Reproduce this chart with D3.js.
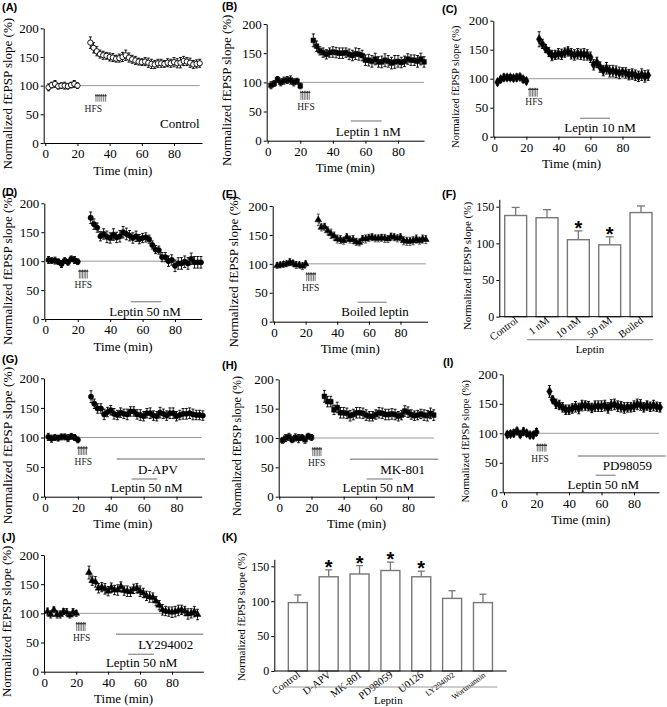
<!DOCTYPE html>
<html><head><meta charset="utf-8">
<script src="https://cdn.jsdelivr.net/npm/d3@7"></script>
<style>body{margin:0;background:#fff}svg{display:block}</style>
</head><body><svg id="c" width="667" height="707"></svg>
<script>
// ---------- data ----------
const baseTimes = [2,4,6,8,10,12,14,16,18,20];
const postTimes = [28,30,32,34,36,38,40,42,44,46,48,50,52,54,56,58,60,62,64,66,68,70,72,74,76,78,80,82,84,86,88,90,92,94,96];
const timeTicks = [0,20,40,60,80];
const slopeTicks = [0,50,100,150,200];
const barTicks = [0,50,100,150];

const controlBase = [97,101,103,99,100,100,99,101,103,100];
const controlPost = [175,166,160,155,153,152,150,149,147,148,150,153,149,146,144,142,141,142,140,138,137,139,139,138,140,139,141,139,140,143,142,140,137,138,139];
const controlBaseErr = [6,5,6,5,5,6,5,5,6,5];
const controlPostErr = [10,9,8,7,7,6,7,7,6,7,8,9,8,7,7,6,6,7,8,8,7,7,7,6,7,7,8,8,9,8,7,8,7,7,7];

const lep1Base = [95,98,105,100,103,104,104,100,102,94];
const lep1Post = [172,162,154,151,148,151,152,151,150,150,151,148,146,149,148,146,138,138,136,140,135,135,138,136,133,135,136,134,136,140,138,138,136,140,135];
const lep1BaseErr = [6,5,5,6,6,6,7,6,5,5];
const lep1PostErr = [11,9,7,8,8,8,9,9,9,9,8,9,9,10,10,9,9,10,10,10,9,10,11,10,10,11,10,9,9,9,9,9,10,10,9];

const lep10Base = [94,99,102,102,102,101,102,103,99,96];
const lep10Post = [168,160,152,146,140,141,143,142,145,147,143,141,143,142,142,141,137,124,128,120,114,118,113,113,112,110,111,110,107,108,106,104,107,104,106];
const lep10BaseErr = [5,5,6,5,5,5,6,5,5,5];
const lep10PostErr = [13,8,7,8,9,8,9,9,8,8,9,9,9,9,10,9,9,9,9,9,9,10,10,10,10,10,8,9,9,9,9,9,10,10,9];

const lep50Base = [102,101,101,99,95,101,98,104,102,99];
const lep50Post = [175,164,158,143,147,142,140,146,141,143,150,147,144,140,143,138,140,141,138,128,120,119,107,107,100,102,92,96,96,99,96,104,98,98,98];
const lep50BaseErr = [6,5,6,5,6,5,5,5,6,5];
const lep50PostErr = [10,9,8,8,9,10,9,10,9,10,10,10,9,9,9,8,8,8,7,7,7,7,8,8,9,9,10,10,10,10,10,10,10,10,10];

const boiledBase = [97,98,99,100,103,101,98,98,96,100];
const boiledPost = [176,163,164,157,152,148,143,142,140,146,142,142,138,137,143,143,145,146,144,144,145,144,143,147,146,144,146,140,139,139,140,143,140,143,142];
const boiledBaseErr = [5,5,5,5,6,5,6,5,6,5];
const boiledPostErr = [10,6,6,7,8,7,7,7,6,6,6,7,6,6,6,7,6,6,6,6,6,7,6,6,6,6,6,7,7,7,7,7,6,7,7];

const apvBase = [101,98,100,99,101,101,99,102,100,96];
const apvPost = [169,157,149,149,139,143,146,140,138,142,140,139,144,144,139,138,136,141,141,137,136,142,140,137,141,141,136,138,140,140,141,139,138,138,137];
const apvBaseErr = [6,6,5,5,5,5,6,5,5,5];
const apvPostErr = [10,8,8,8,9,8,8,9,8,8,8,9,8,8,8,9,8,8,9,8,8,9,8,8,9,9,8,8,9,9,9,9,8,8,8];

const mkBase = [96,100,102,97,101,99,101,97,103,101];
const mkPost = [171,162,162,148,152,143,143,142,138,140,143,143,142,139,137,137,140,143,142,140,140,141,140,137,139,146,144,140,138,139,141,139,138,142,139];
const mkBaseErr = [5,6,6,5,6,7,5,6,5,5];
const mkPostErr = [10,9,9,8,9,9,9,9,9,9,9,9,9,9,8,8,8,9,9,9,9,9,9,8,8,9,9,8,8,8,8,9,9,9,9];

const pdBase = [98,99,100,104,98,103,100,97,97,102];
const pdPost = [171,157,150,148,144,140,140,142,145,142,147,147,146,143,146,146,146,147,143,148,149,146,145,143,144,144,146,149,148,144,147,145,147,145,144];
const pdBaseErr = [5,5,6,5,5,6,5,5,5,6];
const pdPostErr = [10,6,8,8,8,8,8,8,9,9,9,8,8,8,9,9,9,9,9,9,9,9,9,9,8,8,9,9,9,8,8,8,9,8,8];

const lyBase = [103,98,106,98,98,103,102,97,102,100];
const lyPost = [170,156,154,143,145,142,138,144,140,140,146,139,138,137,142,143,138,135,130,128,127,121,114,106,104,103,102,103,105,106,104,99,100,103,98];
const lyBaseErr = [6,6,5,6,6,5,6,5,6,5];
const lyPostErr = [11,8,9,8,8,9,8,8,8,9,8,8,9,8,8,8,9,8,8,9,8,8,8,9,8,8,9,9,9,8,8,9,8,9,9];

const fCats = ["Control","1 nM","10 nM","50 nM","Boiled"];
const fVals = [138,135,105,98,142];
const fErrs = [11,11,12,11,9];
const fSig = [false,false,true,true,false];

const kCats = ["Control","D-APV","MK-801","PD98059","U0126","LY294002","Wortmannin"];
const kVals = [98,135,139,144,135,104,98];
const kErrs = [11,10,12,12,8,11,12];
const kSig = [false,true,true,true,true,false,false];

// ---------- drawing ----------
const svg = d3.select('#c');
const serif = '"Liberation Serif","Times New Roman",serif';
const sans = '"Liberation Sans",Arial,sans-serif';

function panelLabel(txt, x, y){
  svg.append('text').attr('x',x).attr('y',y).attr('font-family',sans).attr('font-weight','bold')
    .attr('font-size',11).text(txt);
}
function styleAxis(g, fs){
  g.attr('font-family',serif).attr('font-size',fs);
  g.selectAll('text').attr('fill','#000');
  g.selectAll('path,line').attr('stroke','#000').attr('stroke-width',1);
}

function timePanel(c){
  panelLabel(c.id, c.lab[0], c.lab[1]);
  const k = (c.x80 - c.x0)/80;
  const x = d3.scaleLinear().domain([(c.axisX-c.x0)/k,(c.axisEnd-c.x0)/k]).range([c.axisX,c.axisEnd]);
  const y = d3.scaleLinear().domain([0,200]).range([c.y0,c.y200]);
  const g = svg.append('g');
  g.append('line').attr('x1',x(20)).attr('x2',Math.min(x(96),c.axisEnd)).attr('y1',y(100)).attr('y2',y(100))
    .attr('stroke','#999').attr('stroke-width',1);
  c.lines.forEach(l=>{
    g.append('line').attr('x1',x(l.t0)).attr('x2',Math.min(x(l.t1),666)).attr('y1',y(l.v)).attr('y2',y(l.v))
      .attr('stroke','#999').attr('stroke-width',1.4);
  });
  c.notes.forEach(n=>{
    g.append('text').attr('x',x(n.t)).attr('y',y(n.v)).attr('dy','0.35em').attr('text-anchor',n.anchor||'middle')
      .attr('font-family',serif).attr('font-size',13).text(n.text);
  });
  const h = c.hfs;
  const nArr = 6;
  for(let i=0;i<nArr;i++){
    const xx = x(h.t0 + (h.t1-h.t0)*i/(nArr-1));
    g.append('line').attr('x1',xx).attr('x2',xx).attr('y1',y(h.bot)).attr('y2',y(h.top)+2)
      .attr('stroke','#555').attr('stroke-width',0.8);
    g.append('path').attr('d',`M${xx-1.3},${y(h.top)+2.6}L${xx},${y(h.top)}L${xx+1.3},${y(h.top)+2.6}Z`).attr('fill','#333');
  }
  g.append('text').attr('x',x(h.tt)).attr('y',y(h.tv)).attr('dy','0.35em').attr('text-anchor','middle')
    .attr('font-family',serif).attr('font-size',9.5).attr('fill','#222').text('HFS');
  const ax = g.append('g').attr('transform',`translate(0,${c.y0})`)
    .call(d3.axisBottom(x).tickValues(timeTicks).tickSize(3).tickSizeOuter(0).tickPadding(3));
  styleAxis(ax, 13);
  const ay = g.append('g').attr('transform',`translate(${c.axisX},0)`)
    .call(d3.axisLeft(y).tickValues(slopeTicks).tickSize(3).tickSizeOuter(0).tickPadding(2));
  styleAxis(ay, 13);
  g.append('text').attr('x',(c.axisX+c.axisEnd)/2).attr('y',c.y0+27).attr('dy','0.35em').attr('text-anchor','middle')
    .attr('font-family',serif).attr('font-size',13).text('Time (min)');
  g.append('text').attr('transform',`translate(${c.ylabX},${(c.y0+c.y200)/2+8}) rotate(-90)`).attr('dy','0.35em')
    .attr('text-anchor','middle').attr('font-family',serif).attr('font-size',c.ylabFs).text('Normalized fEPSP slope (%)');
  const segs = [[baseTimes,c.base,c.eb],[postTimes,c.post,c.ep]];
  segs.forEach(([ts,vs,es])=>{
    const pts = vs.map((v,i)=>({t:ts[i],v:v,e:es[i]}));
    g.append('path').datum(pts).attr('d',d3.line().x(d=>x(d.t)).y(d=>y(d.v)))
      .attr('fill','none').attr('stroke','#000').attr('stroke-width',0.8);
    const eg = g.append('g').attr('stroke',c.errColor||'#000').attr('stroke-width',0.9);
    pts.forEach(d=>{
      const xx=x(d.t), yt=y(d.v+d.e), yb=y(d.v-d.e);
      eg.append('line').attr('x1',xx).attr('x2',xx).attr('y1',yt).attr('y2',yb);
      eg.append('line').attr('x1',xx-1.5).attr('x2',xx+1.5).attr('y1',yt).attr('y2',yt);
      eg.append('line').attr('x1',xx-1.5).attr('x2',xx+1.5).attr('y1',yb).attr('y2',yb);
    });
    g.selectAll(null).data(pts).join('path')
      .attr('transform',d=>`translate(${x(d.t)},${y(d.v)})`)
      .attr('d',d3.symbol(c.sym,c.size)())
      .attr('fill',c.fill).attr('stroke','#000').attr('stroke-width',c.fill==='#fff'?0.9:0.5);
  });
}

function barPanel(c, cats, vals, errs, sig){
  panelLabel(c.id, c.lab[0], c.lab[1]);
  const x = d3.scaleBand().domain(cats).range([c.bandStart,c.bandEnd]).paddingInner(c.pad).paddingOuter(c.pad/2);
  const y = d3.scaleLinear().domain([0,160]).range([c.y0,c.y0-(c.y0-c.y150)*160/150]);
  const g = svg.append('g');
  const bw = x.bandwidth();
  cats.forEach((cat,i)=>{
    const bx = x(cat), cx = bx + bw/2;
    g.append('line').attr('x1',cx).attr('x2',cx).attr('y1',y(vals[i])).attr('y2',y(vals[i]+errs[i]))
      .attr('stroke','#777').attr('stroke-width',1.3);
    g.append('line').attr('x1',cx-c.cap).attr('x2',cx+c.cap).attr('y1',y(vals[i]+errs[i])).attr('y2',y(vals[i]+errs[i]))
      .attr('stroke','#777').attr('stroke-width',1.3);
    g.append('rect').attr('x',bx).attr('y',y(vals[i])).attr('width',bw).attr('height',y(0)-y(vals[i]))
      .attr('fill','#fff').attr('stroke','#777').attr('stroke-width',1.4);
    if(sig[i]){
      g.append('text').attr('x',cx).attr('y',y(vals[i]+errs[i])-7.5+11.5).attr('text-anchor','middle')
        .attr('font-family',sans).attr('font-weight','bold').attr('font-size',20).text('*');
    }
    g.append('text').attr('transform',`translate(${cx+3},${c.y0+5}) rotate(-37)`).attr('text-anchor','end')
      .attr('font-family',serif).attr('font-size',c.catFs[i]).text(cat);
  });
  const ay = g.append('g').attr('transform',`translate(${c.axisX},0)`)
    .call(d3.axisLeft(y).tickValues(barTicks).tickSize(3).tickSizeOuter(0).tickPadding(2));
  styleAxis(ay, c.tickFs);
  g.append('line').attr('x1',c.axisX).attr('x2',c.axisEnd).attr('y1',c.y0).attr('y2',c.y0).attr('stroke','#000');
  g.append('line').attr('x1',c.grp[0]).attr('x2',c.grp[1]).attr('y1',c.grp[2]).attr('y2',c.grp[2]).attr('stroke','#999').attr('stroke-width',1.2);
  g.append('text').attr('x',c.grpText[0]).attr('y',c.grpText[1]).attr('dy','0.35em').attr('text-anchor','middle')
    .attr('font-family',serif).attr('font-size',11).text('Leptin');
  g.append('text').attr('transform',`translate(${c.ylabX},${c.ylabY}) rotate(-90)`).attr('dy','0.35em')
    .attr('text-anchor','middle').attr('font-family',serif).attr('font-size',c.ylabFs).text('Normalized fEPSP slope (%)');
}

const C = d3.symbolCircle, S = d3.symbolSquare, D = d3.symbolDiamond, T = d3.symbolTriangle;

timePanel({id:'(A)',lab:[2,10.5],axisX:43.7,x0:45.3,x80:174,axisEnd:202,y0:143,y200:28.3,ylabX:7.3,ylabFs:13,
  base:controlBase,post:controlPost,eb:controlBaseErr,ep:controlPostErr,sym:C,size:22,fill:'#fff',
  hfs:{t0:31.5,t1:37.5,top:86,bot:72,tt:29.8,tv:60},lines:[],notes:[{text:'Control',t:96,v:34,anchor:'end'}]});
timePanel({id:'(B)',lab:[222,10],axisX:266.7,x0:267.7,x80:398,axisEnd:424,y0:140.7,y200:24,ylabX:226.7,ylabFs:13,
  base:lep1Base,post:lep1Post,eb:lep1BaseErr,ep:lep1PostErr,sym:S,size:22,fill:'#000',
  hfs:{t0:20.4,t1:25.5,top:86,bot:70,tt:23.5,tv:58},lines:[{t0:51,t1:70,v:33.8}],notes:[{text:'Leptin 1 nM',t:61.8,v:16.6}]});
timePanel({id:'(C)',lab:[442,12.5],axisX:493.3,x0:494.3,x80:622.5,axisEnd:650,y0:136.7,y200:20.7,ylabX:455,ylabFs:10.5,
  base:lep10Base,post:lep10Post,eb:lep10BaseErr,ep:lep10PostErr,sym:D,size:26,fill:'#000',
  hfs:{t0:21.8,t1:26.8,top:85,bot:69,tt:24.8,tv:60},lines:[{t0:53.5,t1:72.2,v:31.7}],notes:[{text:'Leptin 10 nM',t:66,v:16.2}]});
timePanel({id:'(D)',lab:[2,195.7],axisX:44.3,x0:45.3,x80:175,axisEnd:201.7,y0:319,y200:203.3,ylabX:7.3,ylabFs:13,
  base:lep50Base,post:lep50Post,eb:lep50BaseErr,ep:lep50PostErr,sym:C,size:22,fill:'#000',
  hfs:{t0:21,t1:25.9,top:86,bot:70,tt:23.4,tv:59},lines:[{t0:52.7,t1:71.4,v:29.9}],notes:[{text:'Leptin 50 nM',t:61.5,v:13.8}]});
timePanel({id:'(E)',lab:[222,198],axisX:272.7,x0:274,x80:400.5,axisEnd:427.7,y0:321.7,y200:206,ylabX:233,ylabFs:13,
  base:boiledBase,post:boiledPost,eb:boiledBaseErr,ep:boiledPostErr,sym:T,size:20,fill:'#000',errColor:'#444',
  hfs:{t0:20.7,t1:26,top:86,bot:70,tt:23.2,tv:59},lines:[{t0:52.9,t1:71.3,v:33.5}],notes:[{text:'Boiled leptin',t:63.9,v:17.3}]});
timePanel({id:'(G)',lab:[2,363],axisX:44,x0:45,x80:176.5,axisEnd:201.7,y0:496.7,y200:378.3,ylabX:7.3,ylabFs:13.5,
  base:apvBase,post:apvPost,eb:apvBaseErr,ep:apvPostErr,sym:C,size:22,fill:'#000',
  hfs:{t0:20.3,t1:25.3,top:85.6,bot:70.4,tt:23.3,tv:60},
  lines:[{t0:43.6,t1:97.3,v:63.7},{t0:52.7,t1:68.3,v:29.9}],
  notes:[{text:'D-APV',t:68.7,v:46.8},{text:'Leptin 50 nM',t:61.9,v:15.2}]});
timePanel({id:'(H)',lab:[222,369],axisX:278.7,x0:279.3,x80:408,axisEnd:434.3,y0:496.7,y200:379.3,ylabX:236.7,ylabFs:12,
  base:mkBase,post:mkPost,eb:mkBaseErr,ep:mkPostErr,sym:S,size:22,fill:'#000',
  hfs:{t0:20.8,t1:25.9,top:85,bot:69,tt:23.2,tv:58.5},
  lines:[{t0:43.9,t1:98.8,v:63.7},{t0:54.3,t1:70.5,v:30.2}],
  notes:[{text:'MK-801',t:76.7,v:47.2},{text:'Leptin 50 nM',t:61.5,v:15.3}]});
timePanel({id:'(I)',lab:[443,366],axisX:502.7,x0:504,x80:634,axisEnd:659,y0:492.3,y200:374.3,ylabX:465,ylabFs:10.5,
  base:pdBase,post:pdPost,eb:pdBaseErr,ep:pdPostErr,sym:D,size:26,fill:'#000',
  hfs:{t0:20.5,t1:25.8,top:83,bot:69,tt:22.2,tv:57.6},
  lines:[{t0:45.4,t1:99.5,v:61.5},{t0:56.4,t1:68.7,v:28.8}],
  notes:[{text:'PD98059',t:75.9,v:45},{text:'Leptin 50 nM',t:61.1,v:14}]});
timePanel({id:'(J)',lab:[2,541],axisX:44,x0:44.3,x80:172,axisEnd:203.3,y0:671.7,y200:555,ylabX:6.7,ylabFs:13,
  base:lyBase,post:lyPost,eb:lyBaseErr,ep:lyPostErr,sym:T,size:20,fill:'#000',
  hfs:{t0:20.3,t1:25.5,top:85.7,bot:69.7,tt:23.4,tv:58},
  lines:[{t0:44.9,t1:99.6,v:64.1},{t0:52.6,t1:68.7,v:29.8}],
  notes:[{text:'LY294002',t:76.1,v:47.5},{text:'Leptin 50 nM',t:61,v:16.1}]});

barPanel({id:'(F)',lab:[442,198],axisX:499.3,axisEnd:653,y0:316.7,y150:206.7,bandStart:500,bandEnd:656.7,pad:0.3,cap:4,
  tickFs:12,catFs:[10.5,10.5,10.5,10.5,10.5],grp:[527,653,339.7],grpText:[590,349],ylabX:466.7,ylabY:266,ylabFs:11},
  fCats,fVals,fErrs,fSig);
barPanel({id:'(K)',lab:[222,541],axisX:274.3,axisEnd:506.7,y0:671,y150:566.3,bandStart:282.4,bandEnd:498.4,pad:0.385,cap:3.5,
  tickFs:12,catFs:[10.5,10.5,10.5,10.5,10.5,8,8],grp:[283.3,497.3,687],grpText:[388.3,700],ylabX:240.7,ylabY:617,ylabFs:11},
  kCats,kVals,kErrs,kSig);
</script></body></html>
